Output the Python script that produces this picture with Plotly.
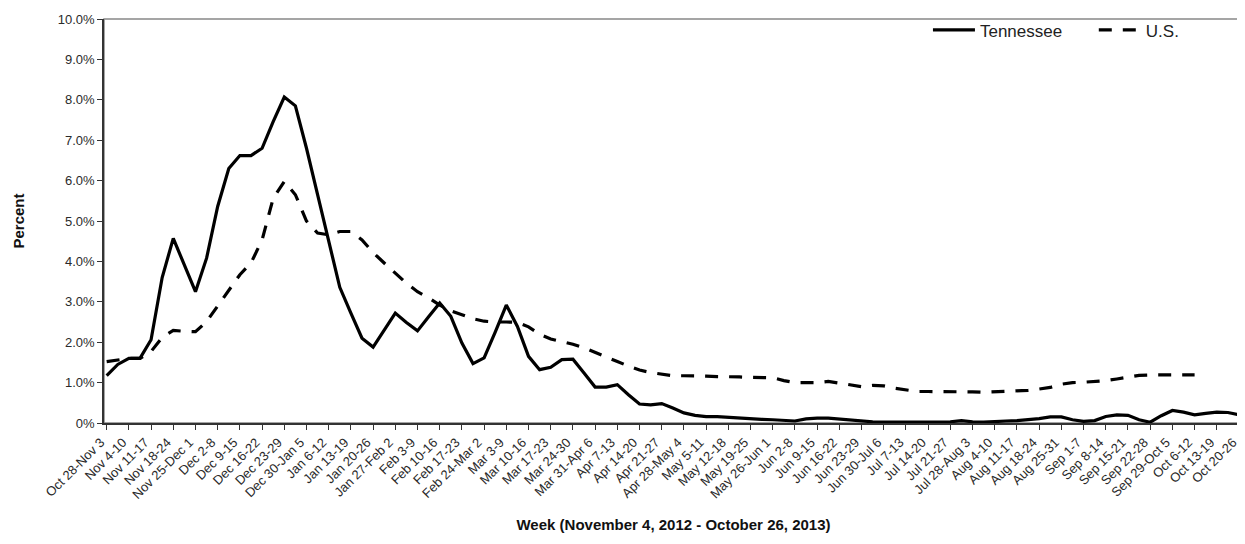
import plotly.graph_objects as go

weeks = ["Oct 28-Nov 3", "Nov 4-10", "Nov 11-17", "Nov 18-24", "Nov 25-Dec 1", "Dec 2-8",
         "Dec 9-15", "Dec 16-22", "Dec 23-29", "Dec 30-Jan 5", "Jan 6-12", "Jan 13-19",
         "Jan 20-26", "Jan 27-Feb 2", "Feb 3-9", "Feb 10-16", "Feb 17-23", "Feb 24-Mar 2",
         "Mar 3-9", "Mar 10-16", "Mar 17-23", "Mar 24-30", "Mar 31-Apr 6", "Apr 7-13",
         "Apr 14-20", "Apr 21-27", "Apr 28-May 4", "May 5-11", "May 12-18", "May 19-25",
         "May 26-Jun 1", "Jun 2-8", "Jun 9-15", "Jun 16-22", "Jun 23-29", "Jun 30-Jul 6",
         "Jul 7-13", "Jul 14-20", "Jul 21-27", "Jul 28-Aug 3", "Aug 4-10", "Aug 11-17",
         "Aug 18-24", "Aug 25-31", "Sep 1-7", "Sep 8-14", "Sep 15-21", "Sep 22-28",
         "Sep 29-Oct 5", "Oct 6-12", "Oct 13-19", "Oct 20-26"]

# values sampled every half week (percent)
tennessee = [1.17, 1.45, 1.6, 1.6, 2.06, 3.6, 4.57, 3.92, 3.25, 4.08,
             5.36, 6.3, 6.62, 6.62, 6.8, 7.46, 8.07, 7.85, 6.8, 5.65,
             4.5, 3.36, 2.72, 2.1, 1.88, 2.3, 2.72, 2.49, 2.28, 2.63,
             2.97, 2.64, 1.98, 1.47, 1.61, 2.25, 2.92, 2.39, 1.65, 1.32,
             1.38, 1.57, 1.58, 1.24, 0.89, 0.89, 0.95, 0.7, 0.47, 0.45,
             0.48, 0.37, 0.25, 0.19, 0.16, 0.16, 0.14, 0.11, 0.1, 0.09,
             0.08, 0.07, 0.05, 0.1, 0.12, 0.12, 0.1, 0.07, 0.04, 0.03,
             0.02, 0.02, 0.02, 0.02, 0.02, 0.02, 0.03, 0.06, 0.03, 0.02,
             0.04, 0.05, 0.06, 0.08, 0.11, 0.15, 0.15, 0.08, 0.04, 0.06,
             0.16, 0.2, 0.19, 0.08, 0.02, 0.18, 0.31, 0.27, 0.2, 0.24,
             0.27, 0.26, 0.2]

us = [1.52, 1.57, 1.6, 1.6, 1.77, 2.12, 2.29, 2.27, 2.26, 2.51,
      2.9, 3.26, 3.67, 3.96, 4.53, 5.56, 5.98, 5.65, 5.0, 4.7,
      4.66, 4.74, 4.74, 4.53, 4.22, 3.96, 3.71, 3.46, 3.25, 3.1,
      2.92, 2.78, 2.68, 2.58, 2.52, 2.5, 2.5, 2.49, 2.38, 2.2,
      2.08, 2.02, 1.95, 1.86, 1.74, 1.62, 1.52, 1.41, 1.31, 1.25,
      1.2, 1.17, 1.17, 1.17, 1.16, 1.15, 1.15, 1.14, 1.13, 1.13,
      1.12, 1.05, 1.0, 1.0, 1.0, 1.03, 0.98, 0.93, 0.9, 0.93,
      0.92, 0.86, 0.81, 0.78, 0.78, 0.78, 0.78, 0.78, 0.77, 0.76,
      0.77, 0.79, 0.8, 0.81, 0.84, 0.88, 0.96, 1.0, 1.01, 1.02,
      1.05, 1.09, 1.13, 1.18, 1.19, 1.19, 1.19, 1.19, 1.19]

y_ticks = [0, 1, 2, 3, 4, 5, 6, 7, 8, 9, 10]
y_labels = ["0%", "1.0%", "2.0%", "3.0%", "4.0%", "5.0%", "6.0%", "7.0%", "8.0%", "9.0%", "10.0%"]

FONT = "Liberation Sans, Arial, sans-serif"

x_tn = [i / 2 for i in range(len(tennessee))]
x_us = [i / 2 for i in range(len(us))]

fig = go.Figure()
fig.add_trace(go.Scatter(x=x_tn, y=tennessee, mode="lines", name="Tennessee",
                         line=dict(color="black", width=3.2), legend="legend"))
fig.add_trace(go.Scatter(x=x_us, y=us, mode="lines", name="U.S.",
                         line=dict(color="black", width=3.2, dash="13px,11px"),
                         legend="legend2"))

legend_style = dict(orientation="h", xanchor="left", yanchor="middle", y=0.972,
                    bgcolor="rgba(0,0,0,0)", font=dict(size=17, color="#222"),
                    itemwidth=42)

fig.update_layout(
    width=1237, height=536,
    margin=dict(l=96, r=2, t=11, b=121),
    paper_bgcolor="white", plot_bgcolor="white",
    font=dict(family=FONT, size=13, color="#333"),
    showlegend=True,
    legend=dict(x=0.7234, **legend_style),
    legend2=dict(x=0.869, **legend_style),
    xaxis=dict(range=[-0.12, 51.18], tickmode="array",
               tickvals=list(range(len(weeks))), ticktext=weeks,
               tickangle=-45, ticks="outside", ticklen=5, tickcolor="#333",
               showline=True, linecolor="#333", linewidth=1.5,
               showgrid=False, zeroline=False, automargin=False,
               ticklabeloverflow="allow", ticklabelshift=-6,
               tickfont=dict(size=13, color="#2a2a2a"),
               title=dict(text="<b>Week (November 4, 2012 - October 26, 2013)</b>",
                          font=dict(size=15, color="#111"), standoff=19)),
    yaxis=dict(range=[0, 10], tickmode="array", tickvals=y_ticks, ticktext=y_labels,
               ticks="outside", ticklen=5, tickcolor="#333",
               showline=True, linecolor="#333", linewidth=1.5,
               showgrid=False, zeroline=False, automargin=False,
               ticklabeloverflow="allow",
               tickfont=dict(size=13, color="#2a2a2a"),
               title=dict(text="<b>Percent</b>", font=dict(size=15, color="#111"),
                          standoff=30)),
    shapes=[dict(type="rect", xref="x domain", yref="y domain", x0=0, x1=1, y0=0, y1=1,
                 line=dict(color="#888", width=1.5), layer="below")],
)

fig.write_html("out.html")
